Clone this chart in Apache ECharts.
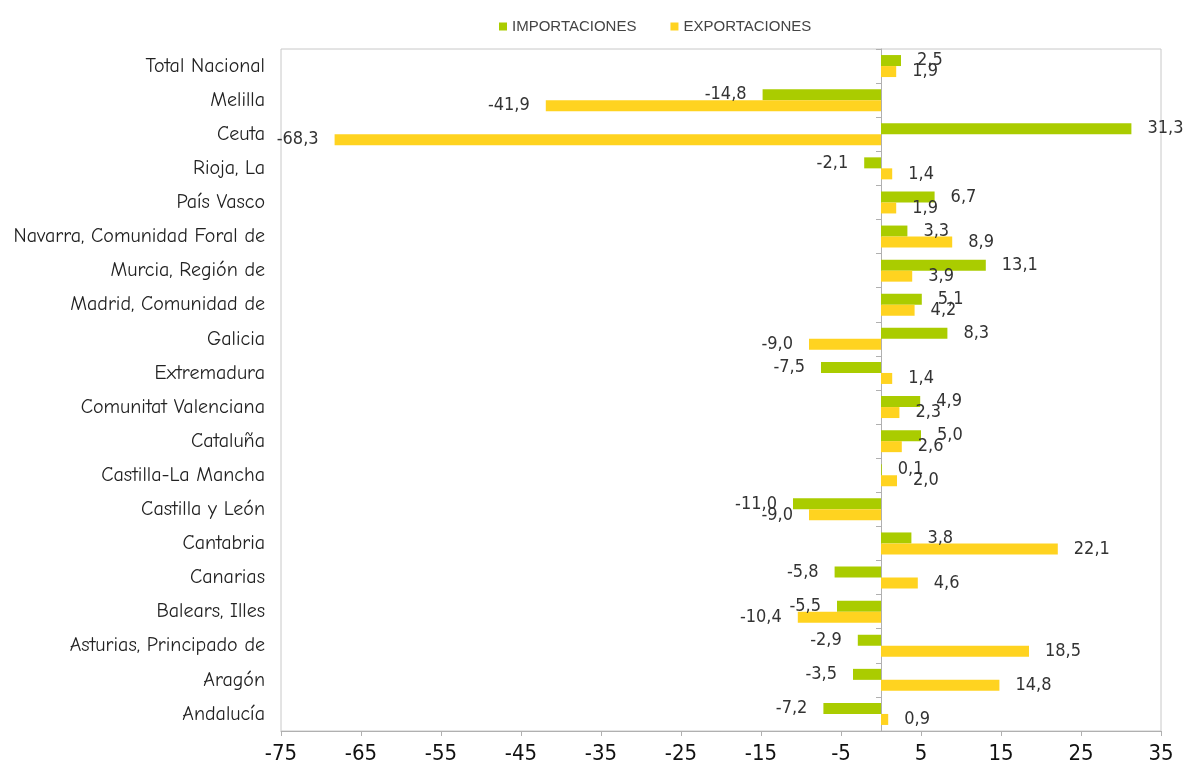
<!DOCTYPE html>
<html><head><meta charset="utf-8">
<script src="https://cdn.jsdelivr.net/npm/echarts@6/dist/echarts.min.js"></script>
<style>html,body{margin:0;padding:0;background:#fff}#c{width:1186px;height:776px}</style>
</head><body><div id="c"></div>
<script>
const categories = ["Andalucía","Aragón","Asturias, Principado de","Balears, Illes","Canarias","Cantabria","Castilla y León","Castilla-La Mancha","Cataluña","Comunitat Valenciana","Extremadura","Galicia","Madrid, Comunidad de","Murcia, Región de","Navarra, Comunidad Foral de","País Vasco","Rioja, La","Ceuta","Melilla","Total Nacional"];
const importaciones = [-7.2,-3.5,-2.9,-5.5,-5.8,3.8,-11.0,0.1,5.0,4.9,-7.5,8.3,5.1,13.1,3.3,6.7,-2.1,31.3,-14.8,2.5];
const exportaciones = [0.9,14.8,18.5,-10.4,4.6,22.1,-9.0,2.0,2.6,2.3,1.4,-9.0,4.2,3.9,8.9,1.9,1.4,-68.3,-41.9,1.9];
const seriesNames = ["IMPORTACIONES","EXPORTACIONES"];

const numFont = "'Liberation Sans Narrow','DejaVu Sans Condensed','Roboto Condensed',sans-serif";
function fmt(v){ return v.toFixed(1).replace('.', ','); }
function mk(vals){
  return vals.map(v => ({
    value: v,
    label: { position: v < 0 ? 'left' : 'right' }
  }));
}
const chart = echarts.init(document.getElementById('c'));
chart.setOption({
  animation: false,
  legend: {
    data: seriesNames, top: 14, left: 494, itemWidth: 8, itemHeight: 8, itemGap: 34,
    icon: 'rect',
    textStyle: { fontFamily: "'Liberation Sans','Arial',sans-serif", fontSize: 15, color: '#444' }
  },
  grid: { left: 281, right: 25, top: 49, bottom: 45, show: true, borderColor: '#c8c8c8', borderWidth: 1 },
  xAxis: {
    type: 'value', min: -75, max: 35, interval: 10,
    axisLine: { show: true, lineStyle: { color: '#b0b0b0' } },
    axisTick: { show: true, length: 5, lineStyle: { color: '#b0b0b0' } },
    splitLine: { show: false },
    axisLabel: { fontFamily: numFont, fontSize: 22, color: '#111', margin: 12 }
  },
  yAxis: [{
    type: 'category', data: categories,
    axisLine: { show: false, onZero: false },
    axisTick: { show: false },
    axisLabel: { fontFamily: "'Comic Neue','Comic Sans MS','DejaVu Sans',sans-serif", fontSize: 20, color: '#222', margin: 16 }
  },{
    type: 'category', data: categories, position: 'left',
    axisLine: { show: true, onZero: true, lineStyle: { color: '#b0b0b0' } },
    axisTick: { show: true, length: 5, lineStyle: { color: '#b0b0b0' } },
    axisLabel: { show: false }
  }],
  series: [{
    name: seriesNames[0], type: 'bar', data: mk(importaciones), barWidth: 11, barGap: '0%',
    itemStyle: { color: '#aacc00' },
    label: { show: true, distance: 16, formatter: p => fmt(p.value), fontFamily: numFont, fontSize: 18, color: '#333' }
  },{
    name: seriesNames[1], type: 'bar', data: mk(exportaciones), barWidth: 11, barGap: '0%',
    itemStyle: { color: '#ffd320' },
    label: { show: true, distance: 16, formatter: p => fmt(p.value), fontFamily: numFont, fontSize: 18, color: '#333' }
  }]
});
</script></body></html>
